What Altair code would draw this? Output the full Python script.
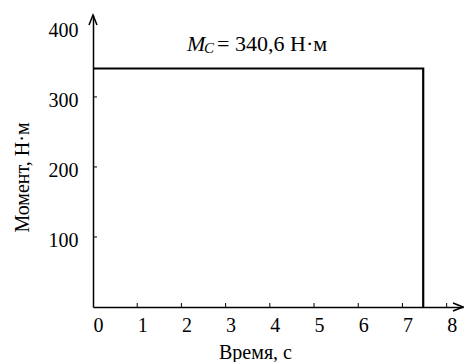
import altair as alt
import pandas as pd

# Load torque: constant moment M_C until the drive stops
time_s = [0.0, 7.47, 7.47]
moment_nm = [340.6, 340.6, 0.0]
MC = 340.6

x_ticks = [0, 1, 2, 3, 4, 5, 6, 7, 8]
y_ticks = [100, 200, 300, 400]
x_inner_ticks = [1, 2, 3, 4, 5, 6, 7, 8]
y_inner_ticks = [100, 200, 300]
x_max = 8.37
y_max = 417

W, H = 370, 292
FONT = "Liberation Serif"

profile = pd.DataFrame({"t": time_s, "m": moment_nm, "order": list(range(len(time_s)))})

x_scale = alt.Scale(domain=[0, x_max], nice=False, zero=False)
y_scale = alt.Scale(domain=[0, y_max], nice=False)

x_axis = alt.Axis(
    values=x_ticks, ticks=False, grid=False, domainColor="black", domainWidth=1.5,
    labelFont=FONT, labelFontSize=20, labelColor="black", labelPadding=8,
    labelOffset=5, labelFlush=False, labelOverlap=False,
    title="Время, с", titleFont=FONT, titleFontSize=20, titleFontWeight="normal",
    titleColor="black", titleX=162, titleY=51, titleBaseline="alphabetic", titleAlign="center",
)
y_axis = alt.Axis(
    values=y_ticks, ticks=False, grid=False, domainColor="black", domainWidth=1.5,
    labelFont=FONT, labelFontSize=20, labelColor="black", labelPadding=15,
    labelOffset=4, labelFlush=False, labelOverlap=False,
    title="Момент, Н·м", titleFont=FONT, titleFontSize=20, titleFontWeight="normal",
    titleColor="black", titleAngle=270, titleX=-71, titleY=162,
    titleAlign="center", titleBaseline="middle",
)

line = alt.Chart(profile).mark_line(color="black", strokeWidth=2.2).encode(
    x=alt.X("t:Q", scale=x_scale, axis=x_axis),
    y=alt.Y("m:Q", scale=y_scale, axis=y_axis),
    order="order:O",
)

# Inward-pointing tick marks
xt = alt.Chart(pd.DataFrame({"v": x_inner_ticks})).mark_rule(color="black", strokeWidth=1).encode(
    x=alt.X("v:Q", scale=x_scale), y=alt.value(H), y2=alt.value(H - 4)
)
yt = alt.Chart(pd.DataFrame({"v": y_inner_ticks})).mark_rule(color="black", strokeWidth=1).encode(
    y=alt.Y("v:Q", scale=y_scale), x=alt.value(0), x2=alt.value(4)
)

# Open arrowheads at the ends of both axes
up_arrow = alt.Chart(pd.DataFrame({"t": [0.0], "m": [y_max]})).mark_point(
    shape="M-0.8,2L0,0L0.8,2", size=100, filled=False, color="black", strokeWidth=1.5, opacity=1
).encode(x=alt.X("t:Q", scale=x_scale), y=alt.Y("m:Q", scale=y_scale))
right_arrow = alt.Chart(pd.DataFrame({"t": [x_max], "m": [0.0]})).mark_point(
    shape="M-2,-0.8L0,0L-2,0.8", size=100, filled=False, color="black", strokeWidth=1.5, opacity=1
).encode(x=alt.X("t:Q", scale=x_scale), y=alt.Y("m:Q", scale=y_scale))

# Label over the constant segment: M_C = 340,6 Н·м
label_df = pd.DataFrame({"t": [time_s[1] / 2], "m": [MC]})
label_text = "= " + f"{MC:.1f}".replace(".", ",") + " Н·м"
enc = dict(x=alt.X("t:Q", scale=x_scale), y=alt.Y("m:Q", scale=y_scale))
m_sym = alt.Chart(label_df).mark_text(
    font=FONT, fontSize=22, fontStyle="italic", align="left", baseline="alphabetic",
    dx=-71, dy=-17.5, color="black"
).encode(text=alt.value("M"), **enc)
c_sub = alt.Chart(label_df).mark_text(
    font=FONT, fontSize=15, fontStyle="italic", align="left", baseline="alphabetic",
    dx=-54, dy=-15.5, color="black"
).encode(text=alt.value("C"), **enc)
rest = alt.Chart(label_df).mark_text(
    font=FONT, fontSize=22, align="left", baseline="alphabetic",
    dx=-41, dy=-17.5, color="black"
).encode(text=alt.value(label_text), **enc)

chart = alt.layer(line, xt, yt, up_arrow, right_arrow, m_sym, c_sub, rest).properties(
    width=W, height=H, autosize="none",
    padding={"left": 93, "top": 15, "right": 1, "bottom": 55},
    background="white",
).configure_view(stroke=None)

chart.save("out.html", embed_options={"renderer": "svg", "actions": False})
